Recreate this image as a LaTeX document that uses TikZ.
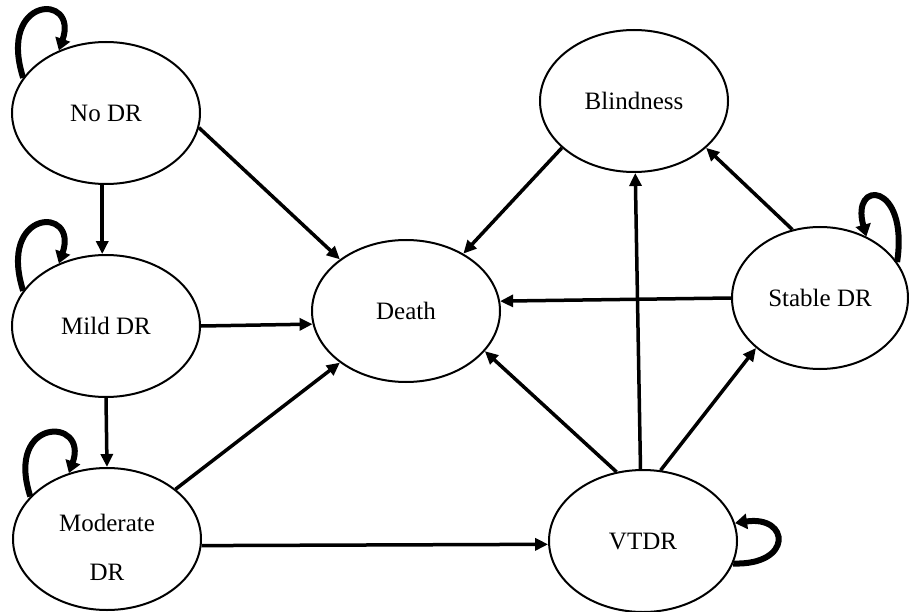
\documentclass[tikz,border=0pt]{standalone}
\usepackage{fontspec}
\setmainfont{Liberation Serif}
\usetikzlibrary{shapes.geometric,arrows.meta}
\begin{document}
\begin{tikzpicture}[x=1pt,y=-1pt,
  state/.style={ellipse,draw=black,line width=2pt,minimum width=188pt,minimum height=142pt,inner sep=0pt,
    font=\fontsize{25}{30}\selectfont},
  trans/.style={line width=3.5pt,-{Triangle[length=13pt,width=12pt]}},
  selfloop/.style={line width=6pt,-{Triangle[length=12pt,width=15pt]}}]
\useasboundingbox (0,0) rectangle (909,612);
\fill[white] (0,0) rectangle (909,612);
% states
\node[state] (nodr) at (106,113) {No DR};
\node[state] (mild) at (106,326) {Mild DR};
\node[state] (mod) at (107,539) {};
\node[align=center,font=\fontsize{25}{49}\selectfont,inner sep=0pt] (modtxt) at (107,547) {Moderate\\DR};
\node[state] (death) at (406,311) {Death};
\node[state] (blind) at (634,101) {Blindness};
\node[state,minimum width=176pt] (stable) at (820,298) {Stable DR};
\node[state] (vtdr) at (643,541) {VTDR};
% transitions
\draw[trans] (nodr.-9) -- (death.142);
\draw[trans] (nodr.-93) -- (mild.93);
\draw[trans] (mild.0) -- (death.188);
\draw[trans] (mild.-90) -- (mod.90);
\draw[trans] (mod.36) -- (death.218);
\draw[trans] (mod.-4) -- (vtdr.182);
\draw[trans] (vtdr.111) -- (death.-27);
\draw[trans] (vtdr.92) -- (blind.-89);
\draw[trans] (vtdr.76) -- (stable.218);
\draw[trans] (stable.180) -- (death.6);
\draw[trans] (stable.112) -- (blind.-33);
\draw[trans] (blind.213) -- (death.45);
% self loops
\draw[selfloop] (nodr.157) .. controls +(-26,-82) and +(20,-58) .. (nodr.127);
\draw[selfloop] (mild.157) .. controls +(-26,-82) and +(20,-58) .. (mild.127);
\draw[selfloop] (mod.151) .. controls +(-26,-80) and +(20,-56) .. (mod.120);
\draw[selfloop] (stable.25) .. controls +(12,-80) and +(-16,-58) .. (stable.53);
\draw[selfloop] (vtdr.-14) .. controls +(60,2) and +(55,-8) .. (vtdr.11);
\end{tikzpicture}
\end{document}
